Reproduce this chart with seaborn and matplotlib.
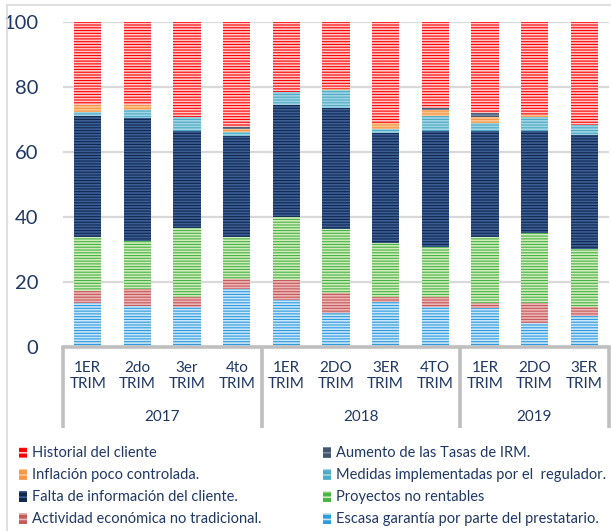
import numpy as np
import pandas as pd
import matplotlib
matplotlib.use("Agg")
import matplotlib.pyplot as plt
import matplotlib.transforms as mtransforms
from matplotlib.patches import Patch, Rectangle
import seaborn as sns

# ---------------- data ----------------
quarters = ["1ER\nTRIM", "2do\nTRIM", "3er\nTRIM", "4to\nTRIM",
            "1ER\nTRIM", "2DO\nTRIM", "3ER\nTRIM", "4TO\nTRIM",
            "1ER\nTRIM", "2DO\nTRIM", "3ER\nTRIM"]
years = ["2017", "2018", "2019"]
year_sizes = [4, 4, 3]

# series, bottom of the stack first
escasa    = [13.4, 12.6, 12.2, 17.9, 14.5, 10.4, 13.9, 12.2, 11.9, 7.3, 9.6]
actividad = [3.8, 5.1, 3.3, 2.9, 6.1, 6.1, 1.6, 3.3, 1.7, 6.1, 2.8]
proyectos = [16.6, 15.0, 21.2, 13.1, 19.5, 19.7, 16.6, 15.4, 20.1, 21.6, 17.8]
falta     = [37.4, 37.9, 29.9, 31.1, 34.5, 37.4, 33.9, 35.7, 32.9, 31.6, 35.1]
medidas   = [1.2, 2.4, 4.1, 1.2, 4.0, 5.4, 1.1, 4.6, 2.4, 4.1, 3.0]
inflacion = [2.0, 1.4, 0.0, 1.0, 0.0, 0.3, 1.7, 1.7, 1.7, 0.7, 0.0]
aumento   = [0.0, 0.0, 0.0, 0.6, 0.0, 0.0, 0.0, 0.5, 1.2, 0.0, 0.0]
historial = [25.6, 25.6, 29.3, 32.2, 21.4, 20.7, 31.2, 26.6, 28.1, 28.6, 31.7]

series_names = ["Escasa garantía por parte del prestatario.",
                "Actividad económica no tradicional.",
                "Proyectos no rentables",
                "Falta de información del cliente.",
                "Medidas implementadas por el  regulador.",
                "Inflación poco controlada.",
                "Aumento de las Tasas de IRM.",
                "Historial del cliente"]
series_values = [escasa, actividad, proyectos, falta, medidas, inflacion, aumento, historial]

face_colors = ["#2C9BE0", "#C55A5A", "#45B545", "#10284E",
               "#4BACC6", "#F79646", "#44546A", "#FF0000"]
hatch_colors = ["#C9E5F7", "#EDB5B5", "#D2EABC", "#3D5F97",
                "#A2D4E3", "#FBC591", "#7587A3", "#FFC9C9"]

TEXT = "#1F3864"
GRID = "#D9D9D9"
SEP = "#BFBFBF"

# ---------------- figure ----------------
sns.set_theme(style="white")
plt.rcParams["font.family"] = ["Lato", "DejaVu Sans"]
plt.rcParams["hatch.linewidth"] = 1.2

W, H = 611, 531
fig = plt.figure(figsize=(W / 100, H / 100), dpi=100)
x0, x1, y_top, y_bot = 63, 609, 22, 347
ax = fig.add_axes([x0 / W, 1 - y_bot / H, (x1 - x0) / W, (y_bot - y_top) / H])

keys = [f"{i:02d}" for i in range(len(quarters))]
df = pd.DataFrame({"key": keys})
cum = np.cumsum(np.array(series_values), axis=0)

# draw cumulative layers from the top down so each one covers the previous
for idx in range(len(series_values) - 1, -1, -1):
    df["val"] = cum[idx]
    sns.barplot(data=df, x="key", y="val", order=keys, color=face_colors[idx],
                saturation=1, width=0.55, errorbar=None, ax=ax,
                hatch="------", edgecolor=hatch_colors[idx], linewidth=0,
                zorder=3)

ax.set_xlim(-0.5, len(quarters) - 0.5)
ax.set_ylim(0, 100)
ax.set_yticks([0, 20, 40, 60, 80, 100])
ax.set_yticklabels(["0", "20", "40", "60", "80", "100"])
ax.tick_params(axis="y", length=0, pad=18, labelsize=14.5, labelcolor=TEXT)
ax.tick_params(axis="x", length=0)
ax.set_xticklabels([])
ax.set_xlabel("")
ax.set_ylabel("")
ax.grid(axis="y", color=GRID, linewidth=1.6, zorder=0)
ax.grid(axis="x", visible=False)
for s in ["top", "right", "left"]:
    ax.spines[s].set_visible(False)
ax.spines["bottom"].set_color(SEP)
ax.spines["bottom"].set_linewidth(2.6)
ax.spines["bottom"].set_zorder(5)

trans = mtransforms.blended_transform_factory(ax.transData, ax.transAxes)
ax_h = y_bot - y_top

def ypix(p):
    return -(p - y_bot) / ax_h

# quarter labels
for i, q in enumerate(quarters):
    ax.text(i, ypix(376), q, transform=trans, ha="center", va="center",
            fontsize=11, color=TEXT, linespacing=1.25)

# year labels and separators
start = 0
bounds = [-0.5]
for yr, n in zip(years, year_sizes):
    mid = start + (n - 1) / 2
    ax.text(mid, ypix(417), yr, transform=trans, ha="center", va="center",
            fontsize=11, color=TEXT)
    start += n
    bounds.append(start - 0.5)
for b in bounds:
    ax.plot([b, b], [0, ypix(428)], transform=trans, color=SEP,
            linewidth=2.6, clip_on=False, solid_capstyle="butt", zorder=5)

# outer chart border (left and top edges visible)
fig.patches.append(Rectangle((7 / W, -0.05), 1.2, 1 - 5 / H + 0.05,
                             transform=fig.transFigure, fill=False,
                             edgecolor="#D9D9D9", linewidth=1.2))

# legend in two columns
def handle(idx):
    return Patch(facecolor=face_colors[idx], edgecolor=hatch_colors[idx],
                 hatch="---", linewidth=0)

col1 = [7, 5, 3, 1]
col2 = [6, 4, 2, 0]
for col, xpx in [(col1, 15), (col2, 319)]:
    leg = fig.legend([handle(i) for i in col], [series_names[i] for i in col],
                     loc="upper left", bbox_to_anchor=(xpx / W, 1 - 442 / H),
                     frameon=False, fontsize=10.5, handlelength=0.55,
                     handleheight=0.75, handletextpad=0.3, labelspacing=0.55,
                     borderaxespad=0, borderpad=0.3)
    for t in leg.get_texts():
        t.set_color(TEXT)

fig.savefig("out.png", dpi=100)
